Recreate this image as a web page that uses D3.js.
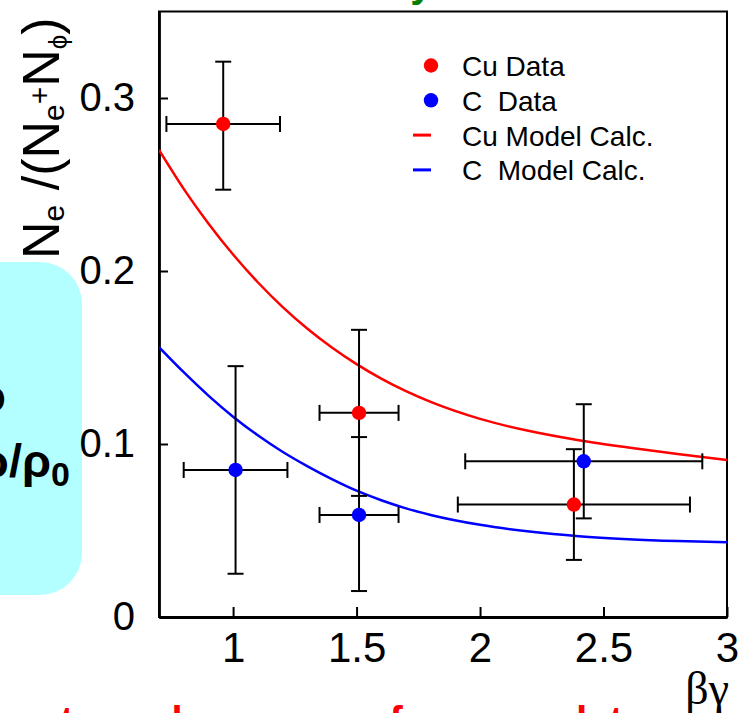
<!DOCTYPE html>
<html><head><meta charset="utf-8">
<script src="https://cdn.jsdelivr.net/npm/d3@7"></script>
<style>html,body{margin:0;padding:0;background:#fff;overflow:hidden}</style>
</head><body>
<svg id="c" width="738" height="713" xmlns="http://www.w3.org/2000/svg"></svg>
<script>
// Model curves, sampled in beta*gamma
const modelBG = [0.7, 0.8, 0.9, 1.0, 1.1, 1.2, 1.3, 1.4, 1.5, 1.6, 1.7, 1.8, 2.0, 2.2, 2.4, 2.6, 2.8, 3.0];
const cuModel = [0.270, 0.2475, 0.2275, 0.2095, 0.1935, 0.1793, 0.1668, 0.1558, 0.1462, 0.1378, 0.1305, 0.1243, 0.1145, 0.1075, 0.1022, 0.0980, 0.0942, 0.0908];
const cModel  = [0.156, 0.1415, 0.128, 0.1158, 0.105, 0.0955, 0.0872, 0.0797, 0.0730, 0.0675, 0.0628, 0.0590, 0.0533, 0.0494, 0.0467, 0.0450, 0.0439, 0.0432];

// Measured ratios with errors
const cuBG   = [0.96, 1.51, 2.38];
const cuBGlo = [0.73, 1.35, 1.91];
const cuBGhi = [1.19, 1.67, 2.85];
const cuVal  = [0.285, 0.118, 0.065];
const cuLo   = [0.247, 0.070, 0.033];
const cuHi   = [0.321, 0.166, 0.097];

const cBG   = [1.01, 1.51, 2.42];
const cBGlo = [0.80, 1.35, 1.94];
const cBGhi = [1.22, 1.67, 2.90];
const cVal  = [0.085, 0.059, 0.090];
const cLo   = [0.025, 0.015, 0.057];
const cHi   = [0.145, 0.104, 0.123];

const xTicks = [1, 1.5, 2, 2.5, 3];
const xTickLabels = ["1", "1.5", "2", "2.5", "3"];
const yTicks = [0, 0.1, 0.2, 0.3];
const yTickLabels = ["0", "0.1", "0.2", "0.3"];

const legendItems = [
  {label: "Cu Data", color: "#ff0000", kind: "dot"},
  {label: "C  Data", color: "#0000ff", kind: "dot"},
  {label: "Cu Model Calc.", color: "#ff0000", kind: "line"},
  {label: "C  Model Calc.", color: "#0000ff", kind: "line"}
];

const FONT = "'Liberation Sans', Arial, Helvetica, sans-serif";
const svg = d3.select("#c");

const x = d3.scaleLinear().domain([0.7, 3]).range([159, 727]);
const y = d3.scaleLinear().domain([0, 0.35]).range([617, 11.5]);

// green heading above the frame (mostly above the window)
svg.append("text")
  .attr("x", 288).attr("y", -3)
  .attr("font-family", FONT).attr("font-weight", "bold").attr("font-size", 40)
  .attr("fill", "#008000")
  .text("Density");

// side note box
svg.append("rect")
  .attr("x", -50).attr("y", 262).attr("width", 132).attr("height", 333).attr("rx", 42)
  .attr("fill", "#b3ffff");
svg.append("text")
  .attr("x", 6).attr("y", 412).attr("text-anchor", "end")
  .attr("font-family", FONT).attr("font-weight", "bold").attr("font-size", 47).attr("fill", "#000")
  .text("ratio");
const rr = svg.append("text")
  .attr("x", 70).attr("y", 477).attr("text-anchor", "end")
  .attr("font-family", FONT).attr("font-weight", "bold").attr("font-size", 47).attr("fill", "#000");
rr.append("tspan").text("ρ/ρ");
rr.append("tspan").attr("font-size", 34).attr("dy", 9).text("0");

// clip for curves
svg.append("defs").append("clipPath").attr("id", "plotclip")
  .append("rect")
  .attr("x", x(0.7)).attr("y", y(0.35))
  .attr("width", x(3) - x(0.7)).attr("height", y(0) - y(0.35));

// axes with inward ticks
const xAxis = d3.axisBottom(x).tickValues(xTicks)
  .tickFormat((d, i) => xTickLabels[i]).tickSizeInner(-10).tickSizeOuter(0).tickPadding(15);
const yAxis = d3.axisLeft(y).tickValues(yTicks)
  .tickFormat((d, i) => yTickLabels[i]).tickSizeInner(-9).tickSizeOuter(0).tickPadding(24);

const gx = svg.append("g").attr("transform", `translate(0,${y(0)})`).call(xAxis);
const gy = svg.append("g").attr("transform", `translate(${x(0.7)},0)`).call(yAxis);
[gx, gy].forEach(g => {
  g.select(".domain").attr("stroke", "#000").attr("stroke-width", 2.8);
  g.selectAll(".tick line").attr("stroke", "#000").attr("stroke-width", 2);
  g.selectAll(".tick text").attr("font-family", FONT).attr("fill", "#000");
});
gx.selectAll(".tick text").attr("font-size", 42);
gy.selectAll(".tick text").attr("font-size", 40);

// frame
svg.append("rect")
  .attr("x", x(0.7)).attr("y", y(0.35))
  .attr("width", x(3) - x(0.7)).attr("height", y(0) - y(0.35))
  .attr("fill", "none").attr("stroke", "#000").attr("stroke-width", 2);

// model curves
const line = d3.line().curve(d3.curveMonotoneX);
const curves = svg.append("g").attr("clip-path", "url(#plotclip)");
curves.append("path")
  .attr("d", line(modelBG.map((b, i) => [x(b), y(cuModel[i])])))
  .attr("fill", "none").attr("stroke", "#ff0000").attr("stroke-width", 2.5);
curves.append("path")
  .attr("d", line(modelBG.map((b, i) => [x(b), y(cModel[i])])))
  .attr("fill", "none").attr("stroke", "#0000ff").attr("stroke-width", 2.5);

// data with error bars
function drawSeries(bg, bglo, bghi, val, lo, hi, color) {
  const g = svg.append("g");
  const cap = 8;
  bg.forEach((b, i) => {
    const eg = g.append("g").attr("stroke", "#000").attr("stroke-width", 2);
    eg.append("line").attr("x1", x(bglo[i])).attr("x2", x(bghi[i])).attr("y1", y(val[i])).attr("y2", y(val[i]));
    eg.append("line").attr("x1", x(bglo[i])).attr("x2", x(bglo[i])).attr("y1", y(val[i]) - cap).attr("y2", y(val[i]) + cap);
    eg.append("line").attr("x1", x(bghi[i])).attr("x2", x(bghi[i])).attr("y1", y(val[i]) - cap).attr("y2", y(val[i]) + cap);
    eg.append("line").attr("x1", x(b)).attr("x2", x(b)).attr("y1", y(lo[i])).attr("y2", y(hi[i]));
    eg.append("line").attr("x1", x(b) - cap).attr("x2", x(b) + cap).attr("y1", y(lo[i])).attr("y2", y(lo[i]));
    eg.append("line").attr("x1", x(b) - cap).attr("x2", x(b) + cap).attr("y1", y(hi[i])).attr("y2", y(hi[i]));
  });
  g.selectAll("circle").data(bg).join("circle")
    .attr("cx", d => x(d)).attr("cy", (d, i) => y(val[i])).attr("r", 7.2)
    .attr("fill", color);
}
drawSeries(cuBG, cuBGlo, cuBGhi, cuVal, cuLo, cuHi, "#ff0000");
drawSeries(cBG, cBGlo, cBGhi, cVal, cLo, cHi, "#0000ff");

// legend
const lg = svg.append("g").attr("transform", "translate(431,65.5)");
legendItems.forEach((it, i) => {
  const row = lg.append("g").attr("transform", `translate(0,${i * 34.8})`);
  if (it.kind === "dot") {
    row.append("circle").attr("r", 7.2).attr("fill", it.color);
  } else {
    row.append("line").attr("x1", -18).attr("x2", 0).attr("y1", 0).attr("y2", 0)
      .attr("stroke", it.color).attr("stroke-width", 3);
  }
  row.append("text").attr("x", 31).attr("y", 10.5)
    .attr("font-family", FONT).attr("font-size", 28).attr("fill", "#000")
    .style("white-space", "pre")
    .text(it.label);
});

// y axis title: N_e /(N_e+N_phi)
const yt = svg.append("text")
  .attr("transform", "translate(59,259) rotate(-90)")
  .attr("font-family", FONT).attr("font-size", 52).attr("fill", "#000")
  .style("white-space", "pre");
yt.append("tspan").text("N");
yt.append("tspan").attr("font-size", 30).attr("dy", 5).text("e");
yt.append("tspan").attr("dy", -5).text(" /(N");
yt.append("tspan").attr("font-size", 30).attr("dy", 5).text("e");
yt.append("tspan").attr("font-size", 30).attr("dy", -14).text("+");
yt.append("tspan").attr("dy", 9).text("N");
yt.append("tspan").attr("font-size", 26).attr("dy", 8).text("ϕ");
yt.append("tspan").attr("dy", -8).text(")");

// x axis title
svg.append("text")
  .attr("x", 729).attr("y", 704).attr("text-anchor", "end")
  .attr("font-family", "'Liberation Serif', 'DejaVu Serif', serif").attr("font-size", 46)
  .attr("fill", "#000").text("βγ");

// red conclusion line (mostly below the window)
svg.append("text")
  .attr("x", -262).attr("y", 735)
  .attr("font-family", FONT).attr("font-weight", "bold").attr("font-size", 40).attr("fill", "#ff0000")
  .text("The excess count was lower even for more data");
</script>
</body></html>
